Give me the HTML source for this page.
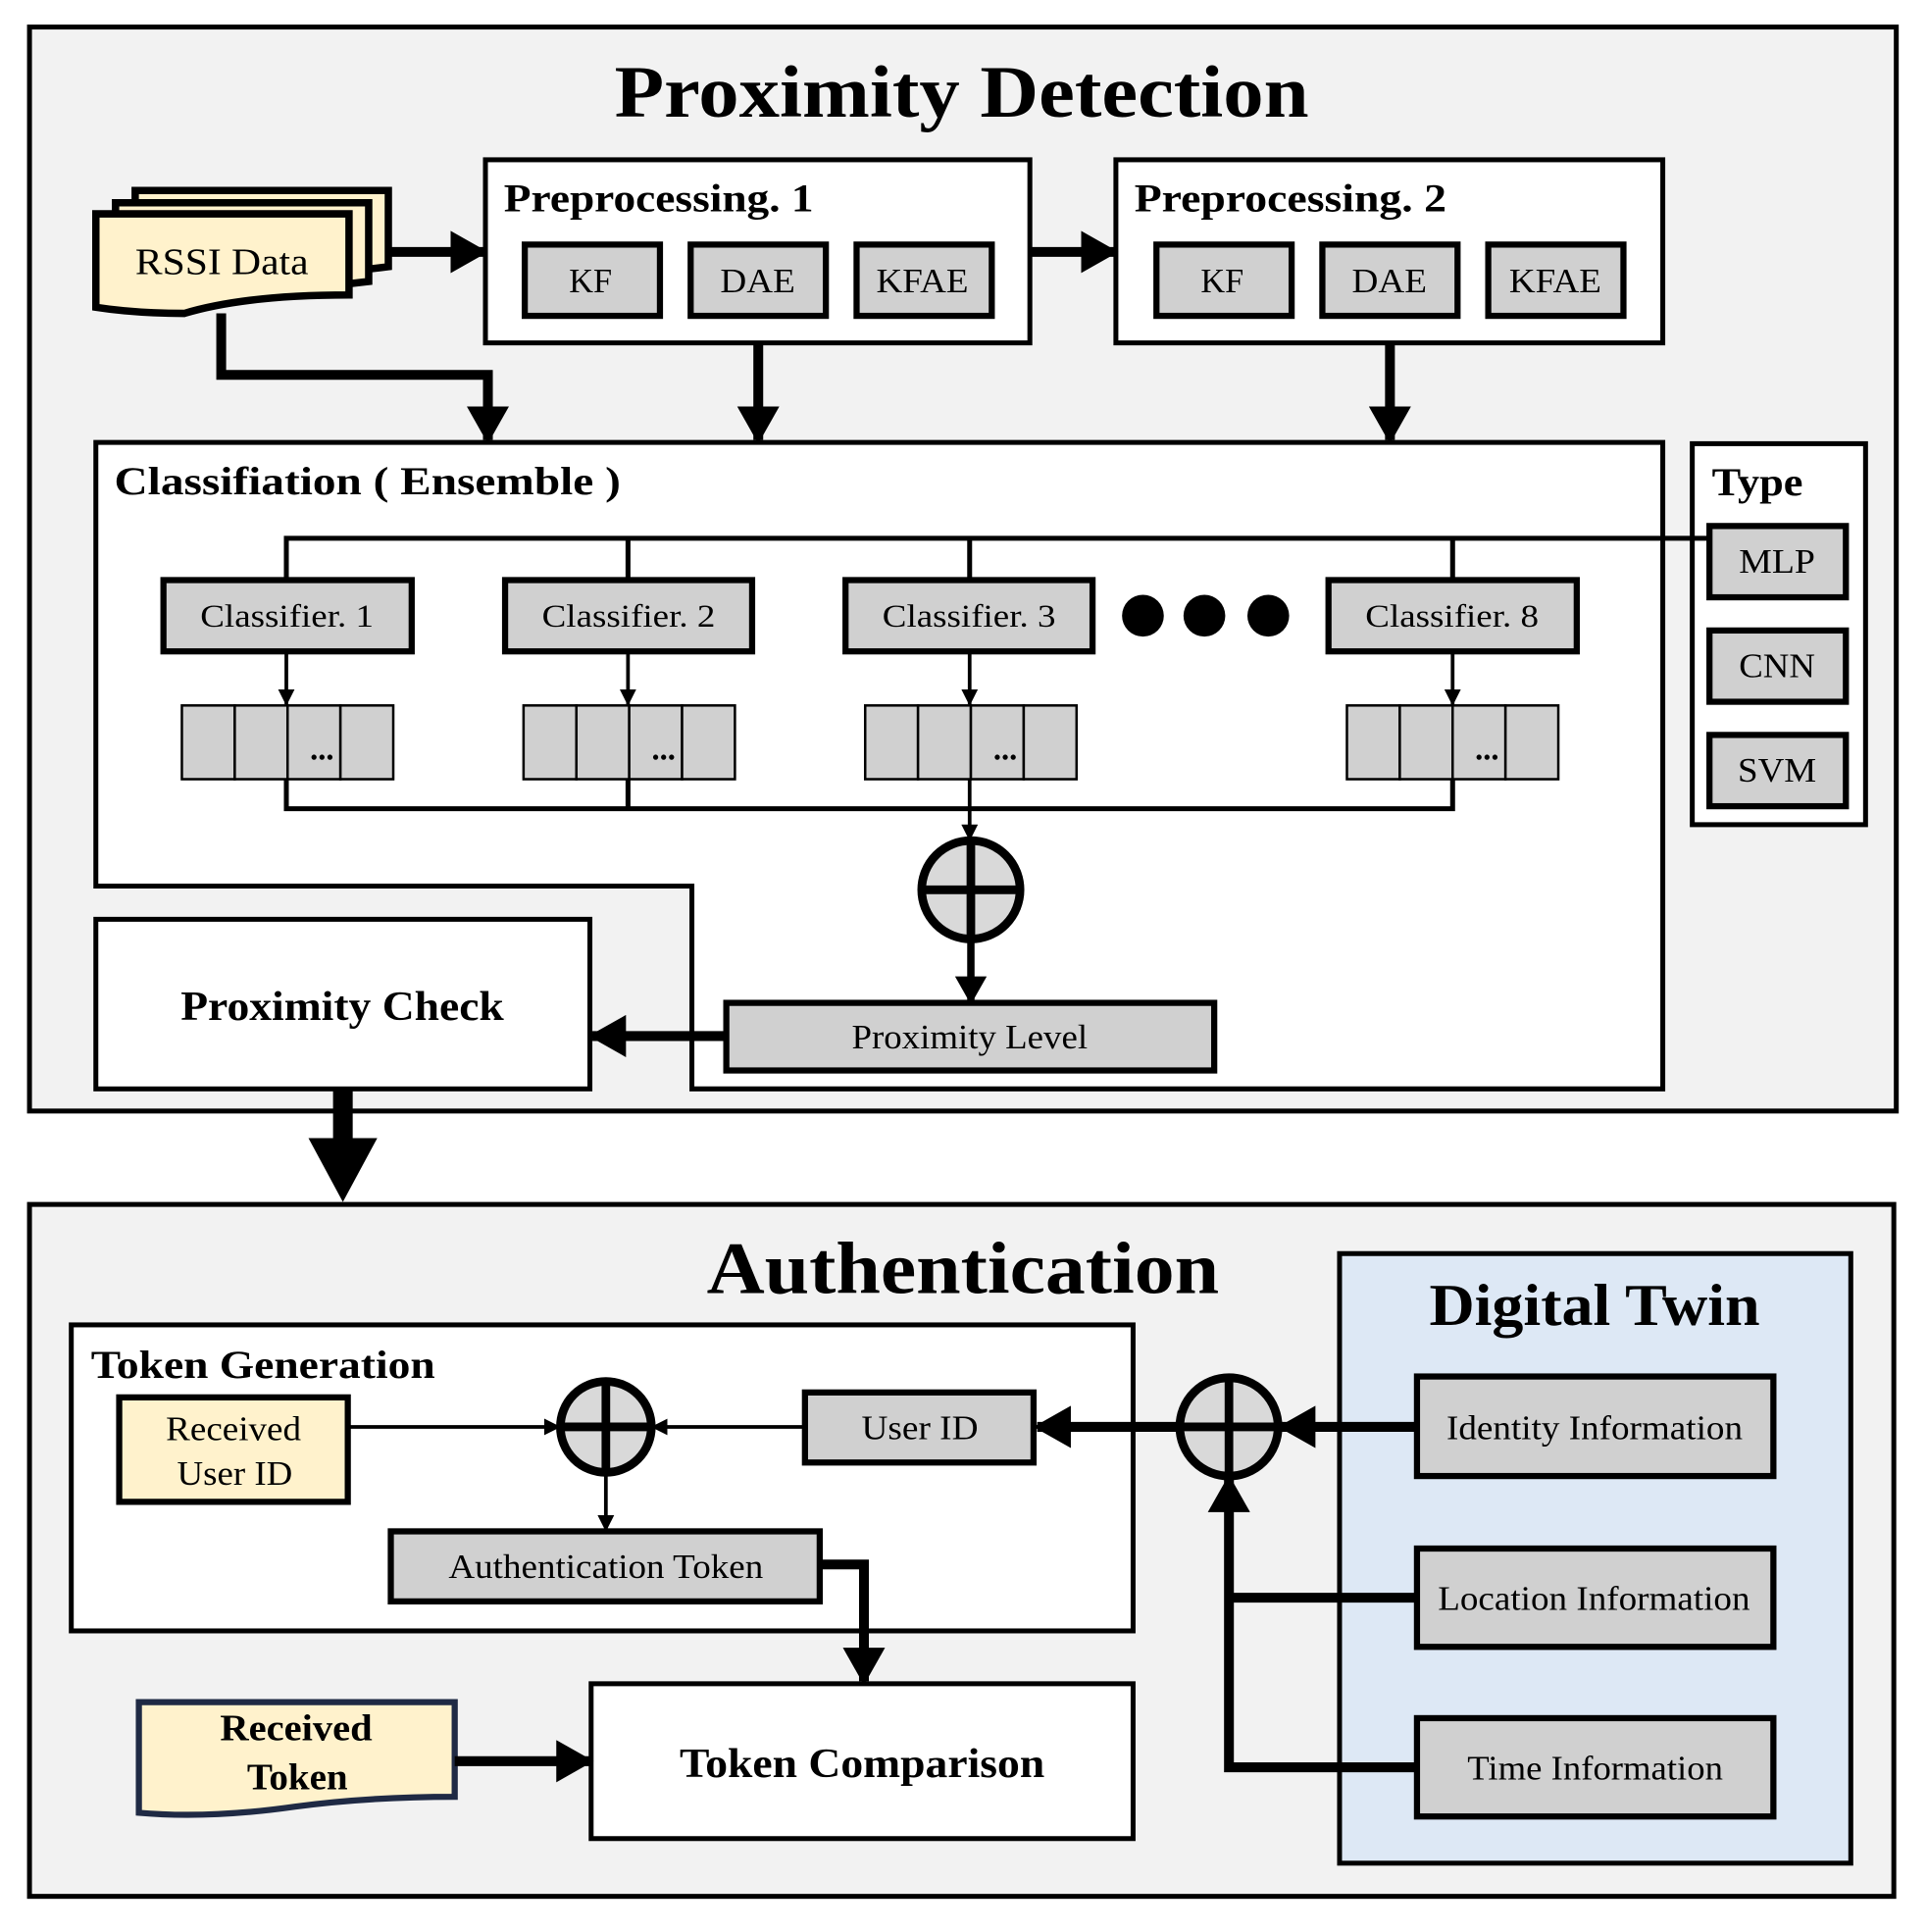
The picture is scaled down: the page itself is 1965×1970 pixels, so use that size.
<!DOCTYPE html>
<html><head><meta charset="utf-8"><style>
html,body{margin:0;padding:0;background:#fff;}
svg{display:block;}
text{font-family:"Liberation Serif",serif;fill:#000;}
.b{font-weight:bold;}
</style></head><body>
<svg width="1965" height="1970" viewBox="0 0 1568 1572" preserveAspectRatio="none" xmlns="http://www.w3.org/2000/svg">
<defs>
<marker id="ah" viewBox="0 0 10 10" refX="9" refY="5" markerWidth="3.8" markerHeight="4.3" preserveAspectRatio="none" orient="auto" markerUnits="strokeWidth"><path d="M0,0 L10,5 L0,10 z" fill="#000"/></marker>
<marker id="as" viewBox="0 0 10 10" refX="9" refY="5" markerWidth="4.5" markerHeight="4.5" orient="auto" markerUnits="strokeWidth"><path d="M0,0 L10,5 L0,10 z" fill="#000"/></marker>
</defs>
<g stroke="#000" stroke-width="4">
<rect x="24" y="22" width="1519" height="882" fill="#f2f2f2"/>
<rect x="395" y="130" width="443" height="149" fill="#fff"/>
<rect x="908" y="130" width="445" height="149" fill="#fff"/>
<g fill="#d0d0d0" stroke-width="5">
<rect x="427" y="199" width="110" height="58"/><rect x="562" y="199" width="110" height="58"/><rect x="697" y="199" width="110" height="58"/>
<rect x="941" y="199" width="110" height="58"/><rect x="1076" y="199" width="110" height="58"/><rect x="1211" y="199" width="110" height="58"/>
</g>
<g fill="#fff2cc" stroke-width="6">
<path d="M110,155 H316 V217 Q250,225 213,230 H110 Z"/>
<path d="M94,165 H300 V229 Q240,236 200,240 H94 Z"/>
<path d="M78,174 H284 V240 Q200,240 150,255 Q110,255 78,250 Z"/>
</g>
<polyline points="316,205 394,205" fill="none" stroke-width="8" marker-end="url(#ah)"/>
<polyline points="838,205 907,205" fill="none" stroke-width="8" marker-end="url(#ah)"/>
<polyline points="180,255 180,305 397,305 397,358" fill="none" stroke-width="8" marker-end="url(#ah)"/>
<polyline points="617,279 617,358" fill="none" stroke-width="8" marker-end="url(#ah)"/>
<polyline points="1131,279 1131,358" fill="none" stroke-width="8" marker-end="url(#ah)"/>
<path d="M78,360 H1353 V886 H563 V721 H78 Z" fill="#fff"/>
<rect x="1377" y="361" width="141" height="310" fill="#fff"/>
<g fill="#d0d0d0" stroke-width="5">
<rect x="1391" y="428" width="111" height="58"/><rect x="1391" y="513" width="111" height="58"/><rect x="1391" y="598" width="111" height="58"/>
<rect x="133" y="472" width="202" height="58"/><rect x="411" y="472" width="201" height="58"/><rect x="688" y="472" width="201" height="58"/><rect x="1081" y="472" width="202" height="58"/>
</g>
<polyline points="233,472 233,438 1391,438" fill="none"/>
<line x1="511" y1="438" x2="511" y2="472"/><line x1="789" y1="438" x2="789" y2="472"/><line x1="1182" y1="438" x2="1182" y2="472"/>
<g fill="#d0d0d0" stroke-width="2">
<rect x="148" y="574" width="43" height="60"/><rect x="191" y="574" width="43" height="60"/><rect x="234" y="574" width="43" height="60"/><rect x="277" y="574" width="43" height="60"/>
<rect x="426" y="574" width="43" height="60"/><rect x="469" y="574" width="43" height="60"/><rect x="512" y="574" width="43" height="60"/><rect x="555" y="574" width="43" height="60"/>
<rect x="704" y="574" width="43" height="60"/><rect x="747" y="574" width="43" height="60"/><rect x="790" y="574" width="43" height="60"/><rect x="833" y="574" width="43" height="60"/>
<rect x="1096" y="574" width="43" height="60"/><rect x="1139" y="574" width="43" height="60"/><rect x="1182" y="574" width="43" height="60"/><rect x="1225" y="574" width="43" height="60"/>
</g>
<g stroke-width="3" fill="none">
<polyline points="233,530 233,573" marker-end="url(#as)"/><polyline points="511,530 511,573" marker-end="url(#as)"/>
<polyline points="789,530 789,573" marker-end="url(#as)"/><polyline points="1182,530 1182,573" marker-end="url(#as)"/>
</g>
<polyline points="233,634 233,658 1182,658 1182,634" fill="none"/>
<line x1="511" y1="634" x2="511" y2="658"/>
<polyline points="789,634 789,683" fill="none" stroke-width="3" marker-end="url(#as)"/>
<circle cx="790" cy="724" r="40" fill="#d9d9d9" stroke-width="7"/>
<line x1="750" y1="724" x2="830" y2="724" stroke-width="7"/><line x1="790" y1="684" x2="790" y2="764" stroke-width="7"/>
<polyline points="790,764 790,815" fill="none" stroke-width="6" marker-end="url(#ah)"/>
<rect x="591" y="816" width="397" height="55" fill="#d0d0d0" stroke-width="5"/>
<polyline points="591,843 482,843" fill="none" stroke-width="8" marker-end="url(#ah)"/>
<rect x="78" y="748" width="402" height="138" fill="#fff"/>
<circle cx="930" cy="501" r="17" fill="#000" stroke="none"/><circle cx="980" cy="501" r="17" fill="#000" stroke="none"/><circle cx="1032" cy="501" r="17" fill="#000" stroke="none"/>
<line x1="279" y1="886" x2="279" y2="930" stroke-width="16"/>
<path d="M251,926 H307 L279,978 Z" fill="#000" stroke="none"/>
<rect x="24" y="980" width="1517" height="563" fill="#f2f2f2"/>
<rect x="1090" y="1020" width="416" height="496" fill="#dde8f5"/>
<g fill="#d0d0d0" stroke-width="5">
<rect x="1153" y="1120" width="290" height="81"/><rect x="1153" y="1260" width="290" height="80"/><rect x="1153" y="1398" width="290" height="80"/>
</g>
<polyline points="1153,1161 1043,1161" fill="none" stroke-width="8" marker-end="url(#ah)"/>
<polyline points="1153,1300 1000,1300" fill="none" stroke-width="8"/>
<polyline points="1153,1438 1000,1438 1000,1203" fill="none" stroke-width="8" marker-end="url(#ah)"/>
<circle cx="1000" cy="1161" r="40" fill="#d9d9d9" stroke-width="7"/>
<line x1="960" y1="1161" x2="1040" y2="1161" stroke-width="7"/><line x1="1000" y1="1121" x2="1000" y2="1201" stroke-width="7"/>
<rect x="58" y="1078" width="864" height="249" fill="#fff"/>
<polyline points="960,1161 844,1161" fill="none" stroke-width="8" marker-end="url(#ah)"/>
<rect x="97" y="1137" width="186" height="85" fill="#fff2cc" stroke-width="5"/>
<rect x="655" y="1133" width="186" height="57" fill="#d0d0d0" stroke-width="5"/>
<rect x="318" y="1246" width="349" height="57" fill="#d0d0d0" stroke-width="5"/>
<polyline points="283,1161 455,1161" fill="none" stroke-width="3" marker-end="url(#as)"/>
<polyline points="655,1161 531,1161" fill="none" stroke-width="3" marker-end="url(#as)"/>
<polyline points="493,1198 493,1245" fill="none" stroke-width="3" marker-end="url(#as)"/>
<circle cx="493" cy="1161" r="37" fill="#d9d9d9" stroke-width="7"/>
<line x1="456" y1="1161" x2="530" y2="1161" stroke-width="7"/><line x1="493" y1="1124" x2="493" y2="1198" stroke-width="7"/>
<polyline points="667,1273 703,1273 703,1368" fill="none" stroke-width="8" marker-end="url(#ah)"/>
<rect x="481" y="1370" width="441" height="126" fill="#fff"/>
<path d="M113,1385 H370 V1462 Q300,1462 240,1470 Q170,1480 113,1475 Z" fill="#fff2cc" stroke="#1f2a44" stroke-width="5"/>
<polyline points="370,1433 480,1433" fill="none" stroke-width="8" marker-end="url(#ah)"/>
</g>
<text x="500" y="95" font-size="60" class="b" textLength="565" lengthAdjust="spacingAndGlyphs">Proximity Detection</text>
<text x="410" y="172" font-size="32" class="b" textLength="252" lengthAdjust="spacingAndGlyphs">Preprocessing. 1</text>
<text x="923" y="172" font-size="32" class="b" textLength="254" lengthAdjust="spacingAndGlyphs">Preprocessing. 2</text>
<g font-size="28">
<text x="463" y="238" textLength="35" lengthAdjust="spacingAndGlyphs">KF</text><text x="586" y="238" textLength="61" lengthAdjust="spacingAndGlyphs">DAE</text><text x="713" y="238" textLength="75" lengthAdjust="spacingAndGlyphs">KFAE</text>
<text x="977" y="238" textLength="35" lengthAdjust="spacingAndGlyphs">KF</text><text x="1100" y="238" textLength="61" lengthAdjust="spacingAndGlyphs">DAE</text><text x="1228" y="238" textLength="75" lengthAdjust="spacingAndGlyphs">KFAE</text>
<text x="1415" y="466" textLength="62" lengthAdjust="spacingAndGlyphs">MLP</text><text x="1415" y="551" textLength="62" lengthAdjust="spacingAndGlyphs">CNN</text><text x="1414" y="636" textLength="64" lengthAdjust="spacingAndGlyphs">SVM</text>
<text x="110" y="223" font-size="30" textLength="141" lengthAdjust="spacingAndGlyphs">RSSI Data</text>
<text x="693" y="853" textLength="192" lengthAdjust="spacingAndGlyphs">Proximity Level</text>
<text x="1177" y="1171" textLength="241" lengthAdjust="spacingAndGlyphs">Identity Information</text>
<text x="1170" y="1310" textLength="254" lengthAdjust="spacingAndGlyphs">Location Information</text>
<text x="1194" y="1448" textLength="208" lengthAdjust="spacingAndGlyphs">Time Information</text>
<text x="701" y="1171" textLength="95" lengthAdjust="spacingAndGlyphs">User ID</text>
<text x="365" y="1284" textLength="256" lengthAdjust="spacingAndGlyphs">Authentication Token</text>
<text x="135" y="1172" textLength="110" lengthAdjust="spacingAndGlyphs">Received</text><text x="144" y="1208" textLength="94" lengthAdjust="spacingAndGlyphs">User ID</text>
</g>
<g font-size="26">
<text x="163" y="510" textLength="141" lengthAdjust="spacingAndGlyphs">Classifier. 1</text><text x="441" y="510" textLength="141" lengthAdjust="spacingAndGlyphs">Classifier. 2</text><text x="718" y="510" textLength="141" lengthAdjust="spacingAndGlyphs">Classifier. 3</text><text x="1111" y="510" textLength="141" lengthAdjust="spacingAndGlyphs">Classifier. 8</text>
</g>
<g font-size="26" class="b" text-anchor="middle">
<text x="262" y="618">...</text><text x="540" y="618">...</text><text x="818" y="618">...</text><text x="1210" y="618">...</text>
</g>
<text x="93" y="402" font-size="32" class="b" textLength="412" lengthAdjust="spacingAndGlyphs">Classifiation ( Ensemble )</text>
<text x="1393" y="403" font-size="32" class="b" textLength="74" lengthAdjust="spacingAndGlyphs">Type</text>
<text x="147" y="830" font-size="34" class="b" textLength="263" lengthAdjust="spacingAndGlyphs">Proximity Check</text>
<text x="575" y="1052" font-size="60" class="b" textLength="417" lengthAdjust="spacingAndGlyphs">Authentication</text>
<text x="1163" y="1078" font-size="48" class="b" textLength="269" lengthAdjust="spacingAndGlyphs">Digital Twin</text>
<text x="74" y="1121" font-size="32" class="b" textLength="280" lengthAdjust="spacingAndGlyphs">Token Generation</text>
<text x="553" y="1446" font-size="34" class="b" textLength="297" lengthAdjust="spacingAndGlyphs">Token Comparison</text>
<text x="179" y="1416" font-size="30" class="b" textLength="124" lengthAdjust="spacingAndGlyphs">Received</text>
<text x="201" y="1456" font-size="30" class="b" textLength="82" lengthAdjust="spacingAndGlyphs">Token</text>
</svg>
</body></html>
